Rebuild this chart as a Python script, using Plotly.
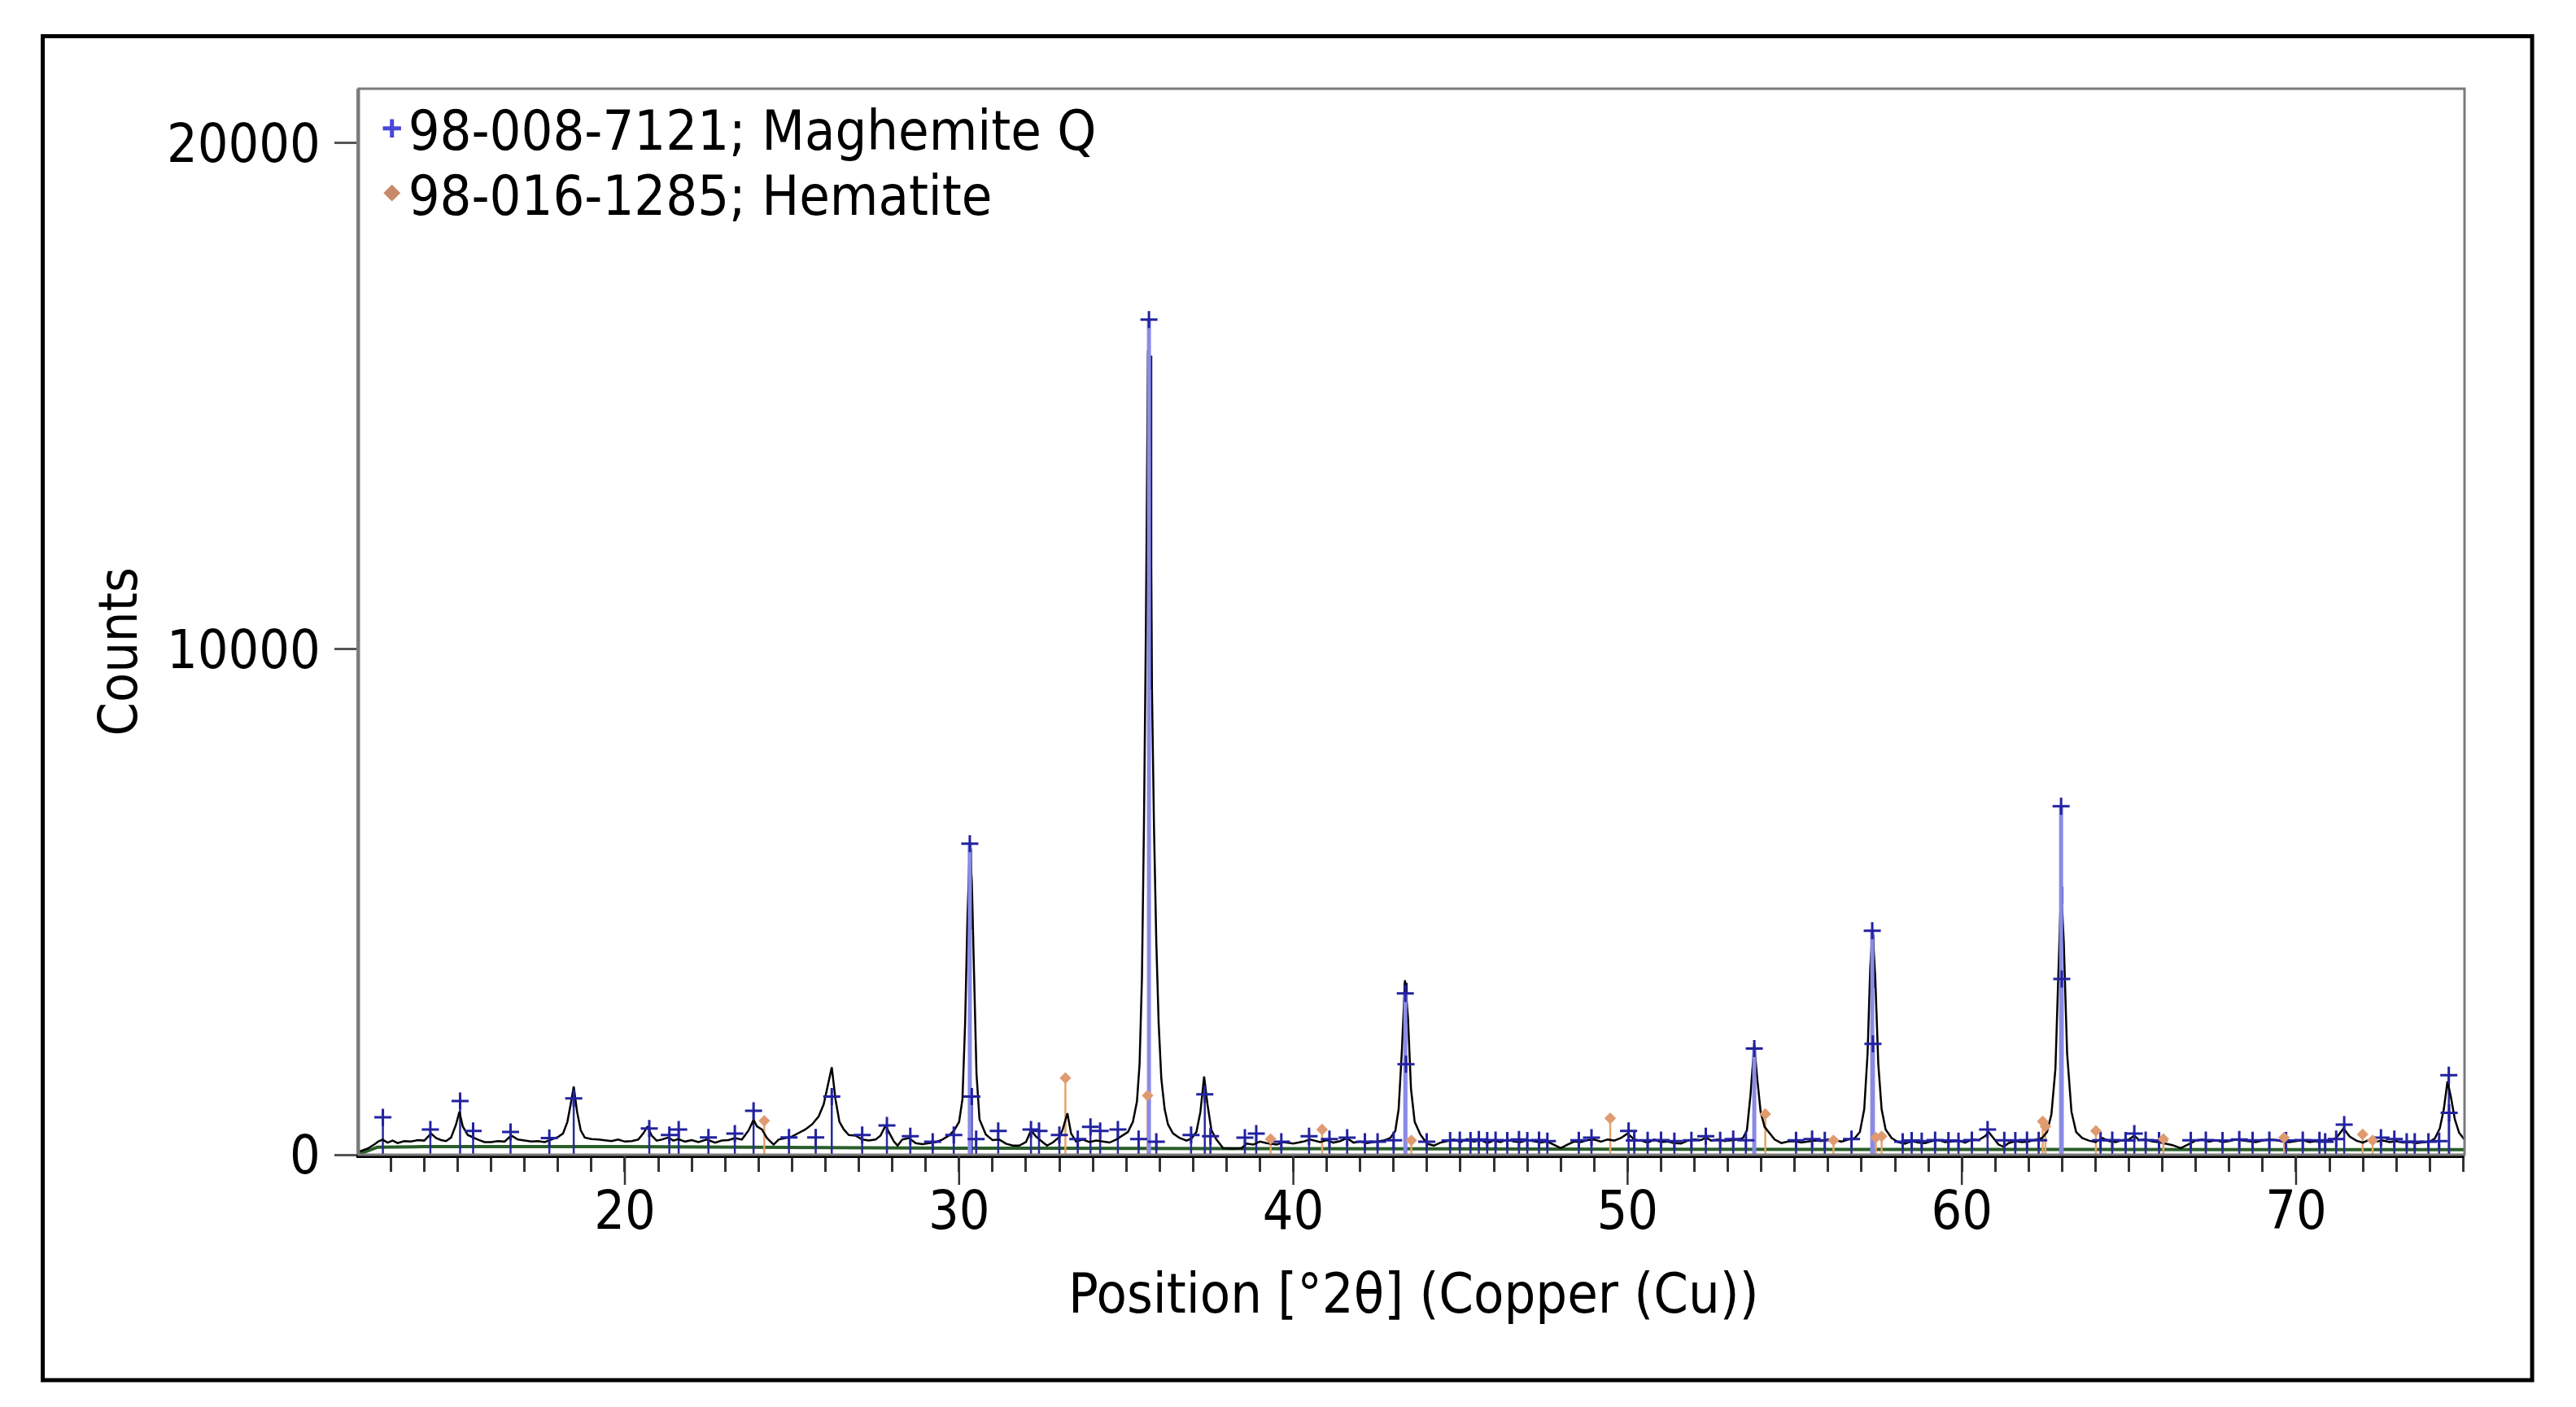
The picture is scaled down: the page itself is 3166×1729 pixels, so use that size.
import plotly.graph_objects as go

# ---------------- data ----------------
obs_2theta = [12.04, 12.3, 12.5, 12.62, 12.75, 12.9, 13.05, 13.2, 13.4, 13.6, 13.8, 14.0, 14.2, 14.35, 14.5,
              14.65, 14.8, 14.95, 15.05, 15.15, 15.3, 15.45, 15.6, 15.8, 16.0, 16.2, 16.4, 16.6, 16.8, 17.0,
              17.2, 17.4, 17.6, 17.8, 18.0, 18.15, 18.28, 18.38, 18.47, 18.57, 18.68, 18.8, 19.0, 19.2, 19.4,
              19.6, 19.8, 20.0, 20.2, 20.4, 20.55, 20.68, 20.8, 20.95, 21.1, 21.3, 21.45, 21.6, 21.8, 22.0,
              22.2, 22.45, 22.7, 22.9, 23.1, 23.3, 23.5, 23.7, 23.85, 23.95, 24.1, 24.25, 24.45, 24.6, 24.8,
              25.0, 25.2, 25.4, 25.6, 25.8, 25.95, 26.08, 26.19, 26.3, 26.42, 26.55, 26.7, 26.9, 27.1, 27.3,
              27.5, 27.65, 27.8, 27.92, 28.05, 28.16, 28.3, 28.5, 28.7, 28.9, 29.1, 29.3, 29.5, 29.7, 29.85,
              30.0, 30.1, 30.18, 30.25, 30.32, 30.38, 30.45, 30.52, 30.61, 30.8, 31.0, 31.2, 31.4, 31.6, 31.8,
              32.0, 32.15, 32.3, 32.5, 32.63, 32.8, 33.0, 33.1, 33.24, 33.35, 33.5, 33.7, 33.9, 34.1, 34.3,
              34.5, 34.7, 34.9, 35.05, 35.2, 35.32, 35.4, 35.47, 35.53, 35.59, 35.65, 35.71, 35.77, 35.83, 35.9,
              35.97, 36.05, 36.15, 36.25, 36.4, 36.6, 36.8, 36.95, 37.1, 37.22, 37.33, 37.43, 37.55, 37.7, 37.9,
              38.2, 38.45, 38.6, 38.8, 39.0, 39.2, 39.5, 39.7, 40.0, 40.3, 40.5, 40.8, 41.0, 41.2, 41.4,
              41.6, 41.8, 42.0, 42.2, 42.5, 42.7, 42.9, 43.05, 43.15, 43.25, 43.34, 43.43, 43.52, 43.63, 43.8,
              44.0, 44.2, 44.4, 44.6, 44.8, 45.0, 45.2, 45.4, 45.6, 45.8, 46.0, 46.2, 46.4, 46.6, 46.8,
              47.0, 47.2, 47.4, 47.6, 47.8, 48.0, 48.2, 48.4, 48.6, 48.8, 49.0, 49.2, 49.4, 49.6, 49.8,
              50.0, 50.2, 50.4, 50.6, 50.8, 51.0, 51.2, 51.4, 51.6, 51.8, 52.0, 52.2, 52.35, 52.5, 52.7,
              52.9, 53.1, 53.3, 53.45, 53.57, 53.68, 53.79, 53.88, 53.98, 54.1, 54.22, 54.4, 54.6, 54.8, 55.0,
              55.2, 55.4, 55.6, 55.8, 56.0, 56.2, 56.4, 56.6, 56.8, 56.95, 57.08, 57.18, 57.26, 57.33, 57.41,
              57.5, 57.6, 57.72, 57.9, 58.1, 58.3, 58.5, 58.7, 58.9, 59.1, 59.3, 59.5, 59.7, 59.9, 60.1,
              60.3, 60.5, 60.7, 60.8, 60.95, 61.1, 61.25, 61.4, 61.6, 61.8, 62.0, 62.2, 62.4, 62.55, 62.68,
              62.8, 62.9, 62.97, 63.05, 63.15, 63.28, 63.42, 63.6, 63.8, 64.0, 64.2, 64.4, 64.6, 64.8, 65.0,
              65.16, 65.3, 65.5, 65.7, 65.9, 66.1, 66.3, 66.55, 66.8, 67.0, 67.2, 67.4, 67.6, 67.8, 68.0,
              68.2, 68.4, 68.6, 68.8, 69.0, 69.2, 69.4, 69.6, 69.8, 70.0, 70.2, 70.4, 70.6, 70.8, 71.0,
              71.2, 71.42, 71.6, 71.8, 72.0, 72.2, 72.4, 72.6, 72.8, 73.0, 73.2, 73.4, 73.6, 73.8, 74.0,
              74.15, 74.3, 74.42, 74.53, 74.63, 74.75, 74.88, 75.04]
obs_counts = [60, 120, 200, 260, 300, 240, 280, 230, 270, 260, 290, 280, 420, 330, 290,
              270, 340, 600, 850, 560, 390, 340, 300, 250, 250, 270, 260, 380, 300, 280,
              260, 270, 250, 300, 350, 420, 650, 1000, 1350, 850, 480, 340, 310, 300, 290,
              270, 300, 260, 270, 300, 420, 560, 380, 280, 300, 340, 280, 310, 260, 290,
              250, 300, 240, 280, 290, 330, 300, 480, 690, 560, 500, 330, 200, 300, 330,
              360, 430, 500, 600, 760, 1000, 1400, 1730, 1100, 650, 500, 390, 380, 300, 280,
              300, 380, 580, 420, 260, 180, 300, 330, 230, 210, 230, 250, 300, 380, 480,
              650, 1100, 2600, 4700, 6100, 5400, 3300, 1600, 700, 400, 290, 300, 220, 180, 180,
              250, 480, 360, 250, 180, 240, 350, 500, 820, 420, 260, 300, 250, 280, 260,
              240, 300, 380, 450, 650, 1050, 1800, 3500, 6500, 10500, 15900, 14900, 9200, 6500, 4200,
              2600, 1500, 900, 600, 420, 330, 280, 320, 450, 850, 1545, 1000, 480, 300, 130,
              120, 130, 220, 200, 260, 230, 200, 250, 220, 260, 300, 250, 290, 240, 270,
              330, 240, 260, 230, 260, 280, 330, 470, 900, 2100, 3450, 2700, 1300, 650, 400,
              220, 180, 240, 270, 300, 250, 310, 260, 290, 230, 280, 250, 300, 260, 250,
              290, 270, 240, 260, 200, 130, 200, 260, 250, 290, 300, 260, 300, 280, 330,
              420, 300, 280, 240, 300, 250, 260, 230, 220, 280, 300, 290, 340, 280, 300,
              270, 290, 300, 330, 480, 1200, 2180, 1500, 850, 550, 450, 300, 230, 260, 270,
              240, 260, 280, 270, 300, 290, 260, 300, 330, 450, 900, 2000, 3700, 4450, 3500,
              1800, 900, 500, 330, 250, 220, 270, 240, 230, 270, 290, 250, 260, 280, 240,
              300, 290, 370, 450, 320, 200, 160, 230, 270, 250, 260, 300, 330, 450, 800,
              1700, 3700, 5300, 4200, 2000, 850, 450, 330, 280, 250, 330, 270, 250, 290, 300,
              380, 290, 300, 260, 250, 220, 190, 130, 220, 280, 300, 260, 290, 250, 270,
              300, 280, 260, 250, 280, 300, 290, 260, 250, 270, 290, 250, 270, 260, 280,
              330, 520, 360, 280, 240, 300, 260, 280, 250, 270, 240, 250, 230, 240, 260,
              320, 520, 900, 1450, 1150, 700, 430, 300]

bg_2theta = [12.04, 12.3, 12.6, 14.0, 20.0, 30.0, 40.0, 50.0, 60.0, 70.0, 75.04]
bg_counts = [10, 80, 150, 160, 160, 130, 115, 110, 105, 100, 100]

# 98-008-7121; Maghemite Q reference lines
mag_2theta = [12.76, 14.18, 15.07, 15.46, 16.58, 17.74, 18.47, 20.73, 21.33, 21.61, 22.50, 23.29, 23.85,
              24.91, 25.71, 26.19, 27.10, 27.84, 28.54, 29.21, 29.84, 30.32, 30.38, 30.51, 31.17, 32.15,
              32.39, 33.00, 33.55, 33.93, 34.22, 34.75, 35.37, 35.68, 35.90, 36.94, 37.35, 37.52, 38.55,
              38.89, 39.64, 40.47, 41.08, 41.61, 42.14, 42.52, 43.00, 43.35, 43.37, 43.99, 44.69, 44.98,
              45.30, 45.55, 45.80, 46.05, 46.40, 46.75, 47.00, 47.35, 47.60, 48.54, 48.92, 50.03, 50.20,
              50.60, 51.00, 51.40, 51.91, 52.34, 52.77, 53.16, 53.54, 53.79, 55.04, 55.52, 55.90, 56.70,
              57.32, 57.34, 58.23, 58.50, 58.80, 59.20, 59.60, 59.90, 60.30, 60.77, 61.27, 61.60, 61.95,
              62.30, 62.97, 62.99, 64.15, 64.50, 64.90, 65.16, 65.50, 65.90, 66.85, 67.30, 67.80, 68.30,
              68.70, 69.20, 69.70, 70.20, 70.70, 70.87, 71.20, 71.44, 72.54, 72.94, 73.31, 73.55, 73.96,
              74.28, 74.57, 74.58]
mag_counts = [740, 500, 1060, 470, 450, 330, 1115, 520, 390, 500, 340, 420, 870,
              340, 340, 1150, 390, 580, 365, 257, 390, 6150, 1150, 311, 472, 499,
              472, 391, 311, 552, 472, 499, 311, 16510, 257, 391, 1196, 365, 338,
              418, 257, 365, 311, 338, 257, 257, 284, 3190, 1790, 257, 280, 290,
              280, 300, 280, 290, 280, 300, 280, 290, 270, 284, 338, 472, 280,
              284, 290, 270, 284, 365, 284, 311, 284, 2100, 284, 311, 284, 311,
              4430, 2190, 257, 280, 270, 290, 280, 270, 290, 499, 284, 280, 290,
              284, 6890, 3475, 284, 290, 280, 418, 290, 280, 284, 290, 280, 300,
              284, 290, 280, 290, 284, 258, 311, 595, 338, 311, 258, 258, 258,
              270, 1572, 828]

# 98-016-1285; Hematite reference lines
hem_2theta = [24.17, 33.18, 35.64, 39.32, 40.86, 43.53, 49.48, 54.12, 56.16, 57.43, 57.60,
              62.42, 62.50, 64.01, 66.03, 69.64, 71.99, 72.29]
hem_counts = [670, 1518, 1170, 311, 499, 284, 720, 804, 284, 340, 365,
              660, 560, 472, 311, 338, 402, 284]

# dark overlay blocks on the strongest peaks (position, lower, upper)
dark_2theta = [30.33, 35.72, 43.36, 57.33, 62.98]
dark_low = [4450, 9200, 2600, 3300, 4950]
dark_high = [6050, 15800, 3400, 4350, 5300]

legend_names = ["98-008-7121; Maghemite Q", "98-016-1285; Hematite"]
x_ticks = [20, 30, 40, 50, 60, 70]
y_ticks = [0, 10000, 20000]

# ---------------- figure ----------------
FONT = "DejaVu Sans Condensed, DejaVu Sans, Liberation Sans, sans-serif"


def stick_xy(xs, ys):
    sx, sy = [], []
    for a, b in zip(xs, ys):
        sx += [a, a, None]
        sy += [0, b, None]
    return sx, sy


fig = go.Figure()

# background
fig.add_trace(go.Scatter(x=bg_2theta, y=bg_counts, mode="lines",
                         line=dict(color="#2a5e2a", width=4), showlegend=False, hoverinfo="skip"))

# maghemite sticks (weak: navy thin, strong: lavender wide)
weak = [(a, b) for a, b in zip(mag_2theta, mag_counts) if b < 2000]
strong = [(a, b) for a, b in zip(mag_2theta, mag_counts) if b >= 2000]
wx, wy = stick_xy([p[0] for p in weak], [p[1] for p in weak])
fig.add_trace(go.Scatter(x=wx, y=wy, mode="lines", line=dict(color="#2a2a9e", width=2.5),
                         showlegend=False, hoverinfo="skip"))

# hematite sticks
hx, hy = stick_xy(hem_2theta, hem_counts)
fig.add_trace(go.Scatter(x=hx, y=hy, mode="lines", line=dict(color="#e6a46a", width=2.5),
                         showlegend=False, hoverinfo="skip"))

# observed pattern
fig.add_trace(go.Scatter(x=obs_2theta, y=obs_counts, mode="lines",
                         line=dict(color="#000000", width=2.5), showlegend=False, hoverinfo="skip"))

# dark blocks
fig.add_trace(go.Bar(x=dark_2theta, y=[h - l for h, l in zip(dark_high, dark_low)], base=dark_low,
                     width=0.12, marker=dict(color="#14145e", line=dict(width=0)),
                     showlegend=False, hoverinfo="skip"))

sx, sy = stick_xy([p[0] for p in strong], [p[1] for p in strong])
fig.add_trace(go.Scatter(x=sx, y=sy, mode="lines", line=dict(color="#8a8ae8", width=5),
                         showlegend=False, hoverinfo="skip"))

# markers
fig.add_trace(go.Scatter(x=mag_2theta, y=mag_counts, mode="markers",
                         marker=dict(symbol="cross-thin", size=15,
                                     line=dict(color="#2222a0", width=3)),
                         showlegend=False, hoverinfo="skip"))
fig.add_trace(go.Scatter(x=hem_2theta, y=hem_counts, mode="markers",
                         marker=dict(symbol="diamond", size=11, color="#e09a70"),
                         showlegend=False, hoverinfo="skip"))

# legend entries (one legend box each so the rows can be placed exactly)
fig.add_trace(go.Scatter(x=[None], y=[None], mode="markers", name=legend_names[0], legend="legend",
                         marker=dict(symbol="cross-thin", size=28, line=dict(color="#4848d8", width=6))))
fig.add_trace(go.Scatter(x=[None], y=[None], mode="markers", name=legend_names[1], legend="legend2",
                         marker=dict(symbol="diamond", size=26, color="#c8896a")))

L, R, T, B = 433, 145, 101, 318
leg_common = dict(xanchor="left", yanchor="middle", bgcolor="rgba(255,255,255,0)",
                  font=dict(size=68, family=FONT), itemsizing="trace", borderwidth=0)
fig.update_layout(
    width=3166, height=1729,
    margin=dict(l=L, r=R, t=T, b=B, pad=0),
    paper_bgcolor="white", plot_bgcolor="white",
    font=dict(family=FONT, size=66, color="black"),
    showlegend=True,
    legend=dict(x=0.008, y=0.9626, **leg_common),
    legend2=dict(x=0.008, y=0.9019, **leg_common),
    barmode="overlay",
)
fig.update_xaxes(range=[12.04, 75.04], tickvals=x_ticks, ticks="outside", ticklen=8, tickwidth=2.5,
                 tickcolor="#333333", showgrid=False, zeroline=False, showline=True,
                 linecolor="black", linewidth=4,
                 tickfont=dict(size=66, family=FONT),
                 minor=dict(dtick=1, ticks="outside", ticklen=17, tickwidth=2.5, tickcolor="#333333",
                            showgrid=False))
fig.update_yaxes(range=[0, 21075], tickvals=y_ticks, ticktext=[str(v) for v in y_ticks],
                 ticks="outside", ticklen=27, tickwidth=2.5, tickcolor="#555555",
                 showgrid=False, zeroline=False, showline=True, linecolor="#808080", linewidth=3,
                 tickfont=dict(size=66, family=FONT), ticklabelstandoff=4)

# full-length major tick marks (37 px) below the x axis
for tv in x_ticks:
    fig.add_shape(type="line", xref="x", yref="paper", x0=tv, x1=tv, ysizemode="pixel", yanchor=0,
                  y0=0, y1=-37, line=dict(color="#333333", width=2.5), layer="above")

# plot frame and outer border
fig.add_shape(type="rect", xref="paper", yref="paper", x0=0, x1=1, y0=0, y1=1,
              line=dict(color="#7a7a7a", width=3), layer="above")
fig.add_shape(type="rect", xref="paper", yref="paper", x0=-0.1501, x1=1.0321, y0=-0.2115, y1=1.0493,
              line=dict(color="black", width=5), layer="above")

# axis titles
fig.add_annotation(text="Counts", xref="paper", yref="paper", x=-0.1142, y=0.4718, textangle=-90,
                   showarrow=False, font=dict(size=66, family=FONT), xanchor="center", yanchor="middle")
fig.add_annotation(text="Position [°2θ] (Copper (Cu))", xref="paper", yref="paper", x=0.5008, y=-0.1298,
                   showarrow=False, font=dict(size=68, family=FONT), xanchor="center", yanchor="middle")

fig.write_html("out.html")
